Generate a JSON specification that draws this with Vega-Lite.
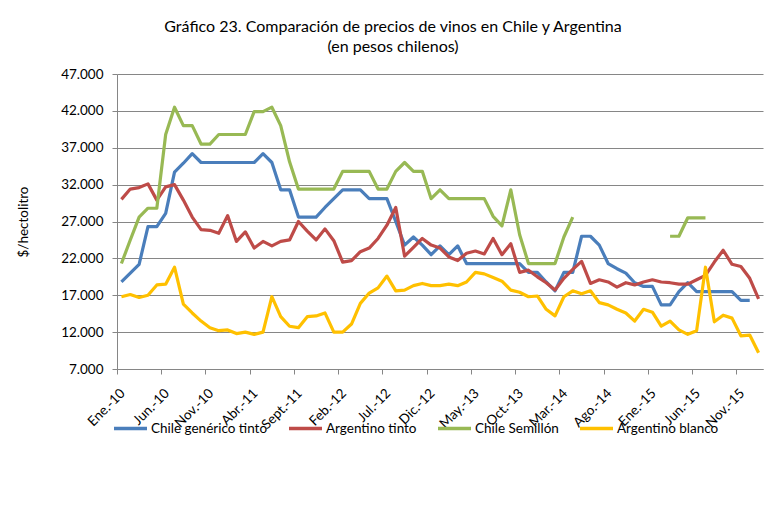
{
  "$schema": "https://vega.github.io/schema/vega-lite/v6.json",
  "autosize": {"type": "none"},
  "width": 646,
  "height": 295,
  "padding": {"left": 117, "top": 74, "right": 15, "bottom": 154},
  "background": "white",
  "config": {
    "view": {"stroke": null},
    "font": "Lato"
  },
  "title": {
    "text": ["Gráfico 23. Comparación de precios de vinos en Chile y Argentina", "(en pesos chilenos)"],
    "anchor": "middle",
    "dx": -47,
    "offset": 12,
    "font": "Lato",
    "fontSize": 16,
    "fontWeight": "normal",
    "color": "black",
    "lineHeight": 20
  },
  "data": {
    "values": [
      {"n": 0, "chile_tinto": 18800, "arg_tinto": 30000, "chile_semillon": 21300, "arg_blanco": 16800},
      {"n": 1, "chile_tinto": 20000, "arg_tinto": 31400, "chile_semillon": 24500, "arg_blanco": 17100},
      {"n": 2, "chile_tinto": 21200, "arg_tinto": 31600, "chile_semillon": 27600, "arg_blanco": 16700},
      {"n": 3, "chile_tinto": 26300, "arg_tinto": 32100, "chile_semillon": 28800, "arg_blanco": 17000},
      {"n": 4, "chile_tinto": 26300, "arg_tinto": 29900, "chile_semillon": 28800, "arg_blanco": 18400},
      {"n": 5, "chile_tinto": 28100, "arg_tinto": 31700, "chile_semillon": 38800, "arg_blanco": 18500},
      {"n": 6, "chile_tinto": 33700, "arg_tinto": 32000, "chile_semillon": 42500, "arg_blanco": 20800},
      {"n": 7, "chile_tinto": 34900, "arg_tinto": 29900, "chile_semillon": 40000, "arg_blanco": 15800},
      {"n": 8, "chile_tinto": 36200, "arg_tinto": 27600, "chile_semillon": 40000, "arg_blanco": 14600},
      {"n": 9, "chile_tinto": 35000, "arg_tinto": 25900, "chile_semillon": 37500, "arg_blanco": 13500},
      {"n": 10, "chile_tinto": 35000, "arg_tinto": 25800, "chile_semillon": 37500, "arg_blanco": 12600},
      {"n": 11, "chile_tinto": 35000, "arg_tinto": 25400, "chile_semillon": 38800, "arg_blanco": 12200},
      {"n": 12, "chile_tinto": 35000, "arg_tinto": 27800, "chile_semillon": 38800, "arg_blanco": 12300},
      {"n": 13, "chile_tinto": 35000, "arg_tinto": 24300, "chile_semillon": 38800, "arg_blanco": 11800},
      {"n": 14, "chile_tinto": 35000, "arg_tinto": 25600, "chile_semillon": 38800, "arg_blanco": 12000},
      {"n": 15, "chile_tinto": 35000, "arg_tinto": 23400, "chile_semillon": 41900, "arg_blanco": 11700},
      {"n": 16, "chile_tinto": 36200, "arg_tinto": 24300, "chile_semillon": 41900, "arg_blanco": 12000},
      {"n": 17, "chile_tinto": 35000, "arg_tinto": 23700, "chile_semillon": 42500, "arg_blanco": 16800},
      {"n": 18, "chile_tinto": 31300, "arg_tinto": 24300, "chile_semillon": 40000, "arg_blanco": 14100},
      {"n": 19, "chile_tinto": 31300, "arg_tinto": 24500, "chile_semillon": 35100, "arg_blanco": 12800},
      {"n": 20, "chile_tinto": 27600, "arg_tinto": 27000, "chile_semillon": 31400, "arg_blanco": 12600},
      {"n": 21, "chile_tinto": 27600, "arg_tinto": 25700, "chile_semillon": 31400, "arg_blanco": 14100},
      {"n": 22, "chile_tinto": 27600, "arg_tinto": 24500, "chile_semillon": 31400, "arg_blanco": 14200},
      {"n": 23, "chile_tinto": 28900, "arg_tinto": 26000, "chile_semillon": 31400, "arg_blanco": 14600},
      {"n": 24, "chile_tinto": 30100, "arg_tinto": 24400, "chile_semillon": 31400, "arg_blanco": 12000},
      {"n": 25, "chile_tinto": 31300, "arg_tinto": 21500, "chile_semillon": 33800, "arg_blanco": 12000},
      {"n": 26, "chile_tinto": 31300, "arg_tinto": 21700, "chile_semillon": 33800, "arg_blanco": 13100},
      {"n": 27, "chile_tinto": 31300, "arg_tinto": 22900, "chile_semillon": 33800, "arg_blanco": 15900},
      {"n": 28, "chile_tinto": 30100, "arg_tinto": 23400, "chile_semillon": 33800, "arg_blanco": 17300},
      {"n": 29, "chile_tinto": 30100, "arg_tinto": 24700, "chile_semillon": 31400, "arg_blanco": 18000},
      {"n": 30, "chile_tinto": 30100, "arg_tinto": 26500, "chile_semillon": 31400, "arg_blanco": 19600},
      {"n": 31, "chile_tinto": 27000, "arg_tinto": 28900, "chile_semillon": 33800, "arg_blanco": 17600},
      {"n": 32, "chile_tinto": 23800, "arg_tinto": 22300, "chile_semillon": 35000, "arg_blanco": 17700},
      {"n": 33, "chile_tinto": 24900, "arg_tinto": 23500, "chile_semillon": 33800, "arg_blanco": 18300},
      {"n": 34, "chile_tinto": 23800, "arg_tinto": 24700, "chile_semillon": 33800, "arg_blanco": 18600},
      {"n": 35, "chile_tinto": 22500, "arg_tinto": 23800, "chile_semillon": 30100, "arg_blanco": 18300},
      {"n": 36, "chile_tinto": 23700, "arg_tinto": 23400, "chile_semillon": 31300, "arg_blanco": 18300},
      {"n": 37, "chile_tinto": 22500, "arg_tinto": 22200, "chile_semillon": 30100, "arg_blanco": 18500},
      {"n": 38, "chile_tinto": 23700, "arg_tinto": 21700, "chile_semillon": 30100, "arg_blanco": 18300},
      {"n": 39, "chile_tinto": 21300, "arg_tinto": 22700, "chile_semillon": 30100, "arg_blanco": 18800},
      {"n": 40, "chile_tinto": 21300, "arg_tinto": 23000, "chile_semillon": 30100, "arg_blanco": 20100},
      {"n": 41, "chile_tinto": 21300, "arg_tinto": 22600, "chile_semillon": 30100, "arg_blanco": 19900},
      {"n": 42, "chile_tinto": 21300, "arg_tinto": 24700, "chile_semillon": 27700, "arg_blanco": 19400},
      {"n": 43, "chile_tinto": 21300, "arg_tinto": 22500, "chile_semillon": 26400, "arg_blanco": 18900},
      {"n": 44, "chile_tinto": 21300, "arg_tinto": 24000, "chile_semillon": 31300, "arg_blanco": 17700},
      {"n": 45, "chile_tinto": 21300, "arg_tinto": 20100, "chile_semillon": 25200, "arg_blanco": 17400},
      {"n": 46, "chile_tinto": 20100, "arg_tinto": 20400, "chile_semillon": 21300, "arg_blanco": 16800},
      {"n": 47, "chile_tinto": 20100, "arg_tinto": 19500, "chile_semillon": 21300, "arg_blanco": 16900},
      {"n": 48, "chile_tinto": 18800, "arg_tinto": 18700, "chile_semillon": 21300, "arg_blanco": 15100},
      {"n": 49, "chile_tinto": 17600, "arg_tinto": 17700, "chile_semillon": 21300, "arg_blanco": 14200},
      {"n": 50, "chile_tinto": 20100, "arg_tinto": 19300, "chile_semillon": 24900, "arg_blanco": 16800},
      {"n": 51, "chile_tinto": 20100, "arg_tinto": 20500, "chile_semillon": 27600, "arg_blanco": 17600},
      {"n": 52, "chile_tinto": 25000, "arg_tinto": 21600, "chile_semillon": null, "arg_blanco": 17200},
      {"n": 53, "chile_tinto": 25000, "arg_tinto": 18600, "chile_semillon": null, "arg_blanco": 17600},
      {"n": 54, "chile_tinto": 23800, "arg_tinto": 19100, "chile_semillon": null, "arg_blanco": 16000},
      {"n": 55, "chile_tinto": 21300, "arg_tinto": 18800, "chile_semillon": null, "arg_blanco": 15700},
      {"n": 56, "chile_tinto": 20600, "arg_tinto": 18100, "chile_semillon": null, "arg_blanco": 15100},
      {"n": 57, "chile_tinto": 20000, "arg_tinto": 18700, "chile_semillon": null, "arg_blanco": 14600},
      {"n": 58, "chile_tinto": 18700, "arg_tinto": 18400, "chile_semillon": null, "arg_blanco": 13500},
      {"n": 59, "chile_tinto": 18200, "arg_tinto": 18800, "chile_semillon": null, "arg_blanco": 15100},
      {"n": 60, "chile_tinto": 18200, "arg_tinto": 19100, "chile_semillon": null, "arg_blanco": 14700},
      {"n": 61, "chile_tinto": 15700, "arg_tinto": 18800, "chile_semillon": null, "arg_blanco": 12800},
      {"n": 62, "chile_tinto": 15700, "arg_tinto": 18700, "chile_semillon": 25000, "arg_blanco": 13500},
      {"n": 63, "chile_tinto": 17500, "arg_tinto": 18500, "chile_semillon": 25000, "arg_blanco": 12300},
      {"n": 64, "chile_tinto": 18700, "arg_tinto": 18500, "chile_semillon": 27500, "arg_blanco": 11700},
      {"n": 65, "chile_tinto": 17500, "arg_tinto": 19100, "chile_semillon": 27500, "arg_blanco": 12200},
      {"n": 66, "chile_tinto": 17500, "arg_tinto": 19700, "chile_semillon": 27500, "arg_blanco": 20800},
      {"n": 67, "chile_tinto": 17500, "arg_tinto": 21500, "chile_semillon": null, "arg_blanco": 13400},
      {"n": 68, "chile_tinto": 17500, "arg_tinto": 23100, "chile_semillon": null, "arg_blanco": 14300},
      {"n": 69, "chile_tinto": 17500, "arg_tinto": 21200, "chile_semillon": null, "arg_blanco": 13900},
      {"n": 70, "chile_tinto": 16300, "arg_tinto": 20900, "chile_semillon": null, "arg_blanco": 11500},
      {"n": 71, "chile_tinto": 16300, "arg_tinto": 19300, "chile_semillon": null, "arg_blanco": 11600},
      {"n": 72, "chile_tinto": null, "arg_tinto": 16500, "chile_semillon": null, "arg_blanco": 9200}
    ]
  },
  "transform": [
    {"fold": ["chile_tinto", "arg_tinto", "chile_semillon", "arg_blanco"], "as": ["serie", "precio"]}
  ],
  "mark": {"type": "line", "strokeWidth": 3.2, "strokeJoin": "round", "strokeCap": "butt", "invalid": "break-paths-filter-domains"},
  "encoding": {
    "x": {
      "field": "n",
      "type": "quantitative",
      "scale": {"domain": [-0.5, 72.5], "nice": false, "zero": false},
      "axis": {
        "title": null,
        "grid": false,
        "values": [0, 5, 10, 15, 20, 25, 30, 35, 40, 45, 50, 55, 60, 65, 70],
        "labelExpr": "['Ene.-10','Jun.-10','Nov.-10','Abr.-11','Sept.-11','Feb.-12','Jul.-12','Dic.-12','May.-13','Oct.-13','Mar.-14','Ago.-14','Ene.-15','Jun.-15','Nov.-15'][round(datum.value/5)]",
        "labelAngle": -45,
        "labelAlign": "right",
        "labelBaseline": "top",
        "labelFont": "Lato",
        "labelFontSize": 13.5,
        "labelColor": "black",
        "labelOverlap": false,
        "labelFlush": false,
        "labelBound": false,
        "labelPadding": 12,
        "tickOffset": -4.43,
        "labelOffset": 0.5,
        "tickSize": 5,
        "tickColor": "#868686",
        "domainColor": "#868686"
      }
    },
    "y": {
      "field": "precio",
      "type": "quantitative",
      "scale": {"domain": [7000, 47000], "nice": false, "zero": false},
      "axis": {
        "title": "$/hectolitro",
        "titleFont": "Lato",
        "titleFontSize": 13.5,
        "titleFontWeight": "normal",
        "titleColor": "black",
        "titlePadding": 30,
        "values": [7000, 12000, 17000, 22000, 27000, 32000, 37000, 42000, 47000],
        "labelExpr": "replace(format(datum.value, ','), ',', '.')",
        "labelFont": "Lato",
        "labelFontSize": 13.5,
        "labelColor": "black",
        "labelOverlap": false,
        "labelPadding": 9,
        "tickSize": 5,
        "tickColor": "#868686",
        "domainColor": "#868686",
        "grid": true,
        "gridColor": "#868686",
        "gridWidth": 1
      }
    },
    "color": {
      "field": "serie",
      "type": "nominal",
      "scale": {
        "domain": ["chile_tinto", "arg_tinto", "chile_semillon", "arg_blanco"],
        "range": ["#4A7EBB", "#BE4B48", "#98B954", "#FFC000"]
      },
      "legend": {
        "title": null,
        "orient": "none",
        "legendX": -5,
        "legendY": 336,
        "direction": "horizontal",
        "gridAlign": "none",
        "symbolType": "stroke",
        "symbolSize": 1089,
        "symbolStrokeWidth": 3.5,
        "labelFont": "Lato",
        "labelFontSize": 13.5,
        "labelColor": "black",
        "labelOffset": 2,
        "columnPadding": 14,
        "labelExpr": "datum.value == 'chile_tinto' ? 'Chile genérico tinto' : datum.value == 'arg_tinto' ? 'Argentino tinto' : datum.value == 'chile_semillon' ? 'Chile Semillón' : 'Argentino blanco'"
      }
    }
  }
}
